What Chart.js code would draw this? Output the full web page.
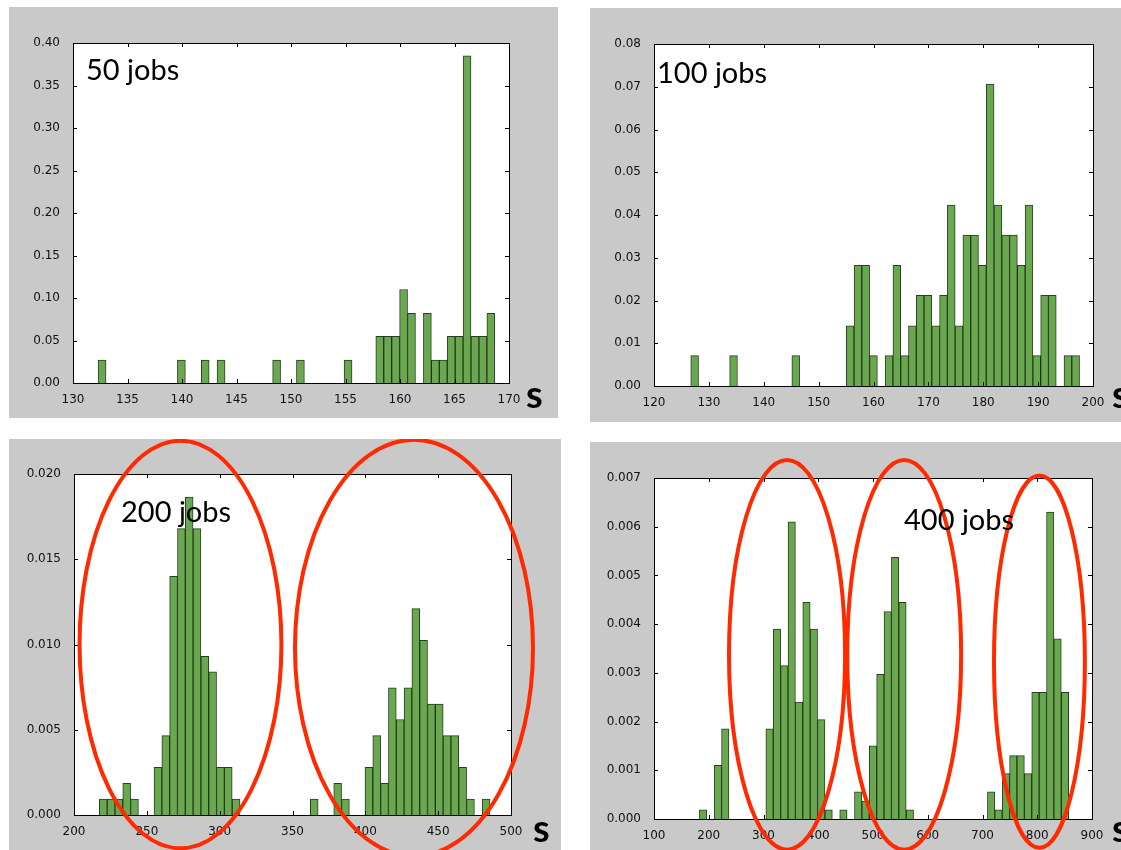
<!DOCTYPE html>
<html>
<head>
<meta charset="utf-8">
<script src="https://cdn.jsdelivr.net/npm/chart.js@4.4.0/dist/chart.umd.min.js"></script>
<style>
  body { margin: 0; background: #fff; width: 1121px; height: 850px; overflow: hidden; position: relative; }
  .panel { position: absolute; background: #c9c9c9; }
  .panel canvas { position: absolute; left: 0; top: 0; }
  .jobs { position: absolute; font-family: Lato, sans-serif; font-size: 29px; line-height: 0; color: #000; white-space: nowrap; z-index: 2; }
  .unit { position: absolute; font-family: Lato, sans-serif; font-weight: bold; font-size: 38px; line-height: 0; color: #000; z-index: 2; }
</style>
</head>
<body>

<div class="panel" style="left:9px;top:7px;width:549px;height:411px"><canvas id="jobs50" width="549" height="411"></canvas></div>
<div class="panel" style="left:590px;top:8px;width:531px;height:414px"><canvas id="jobs100" width="531" height="414"></canvas></div>
<div class="panel" style="left:9px;top:439px;width:552px;height:411px"><canvas id="jobs200" width="552" height="411"></canvas></div>
<div class="panel" style="left:590px;top:442px;width:531px;height:408px"><canvas id="jobs400" width="531" height="408"></canvas></div>

<div class="jobs" style="left:86px;top:69px">50 jobs</div>
<div class="jobs" style="left:657px;top:72px">100 jobs</div>
<div class="jobs" style="left:121px;top:511px">200 jobs</div>
<div class="jobs" style="left:904px;top:519px">400 jobs</div>
<div class="unit" style="left:526px;top:393px">s</div>
<div class="unit" style="left:1112px;top:393px">s</div>
<div class="unit" style="left:533px;top:827px">s</div>
<div class="unit" style="left:1112px;top:827px">s</div>

<script>
// histogram data: 50 bins each, density values
const bins50 = { start: 132.3, width: 0.728 };
const dens50 = [0.027, 0, 0, 0, 0, 0, 0, 0, 0, 0,
  0.027, 0, 0, 0.027, 0, 0.027, 0, 0, 0, 0,
  0, 0, 0.027, 0, 0, 0.027, 0, 0, 0, 0,
  0, 0.027, 0, 0, 0, 0.055, 0.055, 0.055, 0.11, 0.082,
  0, 0.082, 0.027, 0.027, 0.055, 0.055, 0.385, 0.055, 0.055, 0.082];
const xTicks50 = [130, 135, 140, 145, 150, 155, 160, 165, 170];
const yTicks50 = [0, 0.05, 0.10, 0.15, 0.20, 0.25, 0.30, 0.35, 0.40];

const bins100 = { start: 126.7, width: 1.417 };
const dens100 = [0.0071, 0, 0, 0, 0, 0.0071, 0, 0, 0, 0,
  0, 0, 0, 0.0071, 0, 0, 0, 0, 0, 0,
  0.0141, 0.0282, 0.0282, 0.0071, 0, 0.0071, 0.0282, 0.0071, 0.0141, 0.0212,
  0.0212, 0.0141, 0.0212, 0.0423, 0.0141, 0.0353, 0.0353, 0.0282, 0.0706, 0.0423,
  0.0353, 0.0353, 0.0282, 0.0423, 0.0071, 0.0212, 0.0212, 0, 0.0071, 0.0071];
const xTicks100 = [120, 130, 140, 150, 160, 170, 180, 190, 200];
const yTicks100 = [0, 0.01, 0.02, 0.03, 0.04, 0.05, 0.06, 0.07, 0.08];

const bins200 = { start: 217.4, width: 5.364 };
const dens200 = [0.00093, 0.00093, 0.00093, 0.00186, 0.00093, 0, 0, 0.0028, 0.00466, 0.014,
  0.0168, 0.01865, 0.0168, 0.0093, 0.0084, 0.0028, 0.0028, 0.00093, 0, 0,
  0, 0, 0, 0, 0, 0, 0, 0.00093, 0, 0,
  0.00186, 0.00093, 0, 0, 0.0028, 0.00466, 0.00186, 0.00746, 0.0056, 0.00746,
  0.0121, 0.01025, 0.0065, 0.0065, 0.00466, 0.00466, 0.0028, 0.00093, 0, 0.00093];
const xTicks200 = [200, 250, 300, 350, 400, 450, 500];
const yTicks200 = [0, 0.005, 0.010, 0.015, 0.020];

const bins400 = { start: 182.9, width: 13.49 };
const dens400 = [0.00019, 0, 0.0011, 0.00185, 0, 0, 0, 0, 0, 0.00185,
  0.0039, 0.00315, 0.0061, 0.0024, 0.00445, 0.0039, 0.00204, 0.00019, 0, 0.00019,
  0, 0.00056, 0.00037, 0.0015, 0.00297, 0.00426, 0.00537, 0.00445, 0.00019, 0,
  0, 0, 0, 0, 0, 0, 0, 0, 0, 0.00056,
  0.00019, 0.00093, 0.0013, 0.0013, 0.00093, 0.0026, 0.0026, 0.0063, 0.0037, 0.0026];
const xTicks400 = [100, 200, 300, 400, 500, 600, 700, 800, 900];
const yTicks400 = [0, 0.001, 0.002, 0.003, 0.004, 0.005, 0.006, 0.007];

// red rings drawn on the lower plots (centre and radii in data units)
const rings200 = [
  { x: 273.1, y: 0.0100, rx: 69.3, ry: 0.01195 },
  { x: 433.4, y: 0.0098, rx: 81.7, ry: 0.01221 }
];
const rings400 = [
  { x: 343, y: 0.00337, rx: 106, ry: 0.0040 },
  { x: 557, y: 0.00337, rx: 104, ry: 0.0040 },
  { x: 804, y: 0.00323, rx: 83, ry: 0.00382 }
];

// white plot area, black frame, inward tick marks, rings
const framePlugin = {
  id: 'frame',
  beforeDatasetsDraw(chart) {
    const a = chart.chartArea, ctx = chart.ctx;
    ctx.save();
    ctx.fillStyle = '#fff';
    ctx.fillRect(a.left, a.top, a.right - a.left, a.bottom - a.top);
    ctx.restore();
  },
  afterDatasetsDraw(chart) {
    const a = chart.chartArea, ctx = chart.ctx;
    const xs = chart.scales.x, ys = chart.scales.y;
    ctx.save();
    ctx.strokeStyle = '#000';
    ctx.lineWidth = 1;
    ctx.beginPath();
    xs.ticks.forEach(t => {
      const px = Math.round(xs.getPixelForValue(t.value)) + 0.5;
      ctx.moveTo(px, a.bottom); ctx.lineTo(px, a.bottom - 4);
      ctx.moveTo(px, a.top); ctx.lineTo(px, a.top + 4);
    });
    ys.ticks.forEach(t => {
      const py = Math.round(ys.getPixelForValue(t.value)) + 0.5;
      ctx.moveTo(a.left, py); ctx.lineTo(a.left + 4, py);
      ctx.moveTo(a.right, py); ctx.lineTo(a.right - 4, py);
    });
    ctx.stroke();
    ctx.strokeRect(Math.round(a.left) + 0.5, Math.round(a.top) + 0.5,
      Math.round(a.right - a.left), Math.round(a.bottom - a.top));
    ctx.restore();
  },
  afterDraw(chart, args, opts) {
    const rings = opts.rings || [];
    const xs = chart.scales.x, ys = chart.scales.y, ctx = chart.ctx;
    ctx.save();
    ctx.strokeStyle = '#ff2a00';
    ctx.lineWidth = 4;
    rings.forEach(r => {
      const cx = xs.getPixelForValue(r.x), cy = ys.getPixelForValue(r.y);
      const rx = Math.abs(xs.getPixelForValue(r.x + r.rx) - cx);
      const ry = Math.abs(ys.getPixelForValue(r.y + r.ry) - cy);
      ctx.beginPath();
      ctx.ellipse(cx, cy, rx, ry, 0, 0, Math.PI * 2);
      ctx.stroke();
    });
    ctx.restore();
  }
};

function histChart(id, bins, dens, xTicks, yTicks, decimals, box, rings) {
  const points = dens.map((v, i) => ({ x: bins.start + (i + 0.5) * bins.width, y: v }));
  const tickFont = { family: 'DejaVu Sans', size: 12 };
  const filled = ctx => ctx.raw && ctx.raw.y > 0;
  return new Chart(document.getElementById(id), {
    type: 'bar',
    data: {
      datasets: [{
        data: points,
        backgroundColor: ctx => (filled(ctx) ? '#6aa84f' : 'rgba(0,0,0,0)'),
        borderColor: 'rgba(20,40,12,0.9)',
        borderWidth: ctx => (filled(ctx) ? { top: 1, left: 1, right: 1, bottom: 0 } : 0),
        borderSkipped: false,
        barPercentage: 1,
        categoryPercentage: 1
      }]
    },
    options: {
      responsive: false,
      animation: false,
      layout: { padding: { left: 0, top: box.top, right: box.right, bottom: 0 } },
      plugins: {
        legend: { display: false },
        tooltip: { enabled: false },
        frame: { rings: rings }
      },
      scales: {
        x: {
          type: 'linear',
          offset: false,
          min: xTicks[0],
          max: xTicks[xTicks.length - 1],
          grid: { display: false },
          border: { display: false },
          afterBuildTicks: s => { s.ticks = xTicks.map(v => ({ value: v })); },
          afterFit: s => { s.height = box.xh; },
          ticks: { autoSkip: false, maxRotation: 0, padding: 2, color: '#111', font: tickFont,
            callback: v => String(v) }
        },
        y: {
          min: yTicks[0],
          max: yTicks[yTicks.length - 1],
          grid: { display: false },
          border: { display: false },
          afterBuildTicks: s => { s.ticks = yTicks.map(v => ({ value: v })); },
          afterFit: s => { s.width = box.yw; },
          ticks: { autoSkip: false, padding: 5, color: '#111', font: tickFont,
            callback: v => Number(v).toFixed(decimals) }
        }
      }
    },
    plugins: [framePlugin]
  });
}

histChart('jobs50', bins50, dens50, xTicks50, yTicks50, 2, { top: 36, right: 49, yw: 64, xh: 35 }, []);
histChart('jobs100', bins100, dens100, xTicks100, yTicks100, 2, { top: 36, right: 28, yw: 64, xh: 36 }, []);
histChart('jobs200', bins200, dens200, xTicks200, yTicks200, 3, { top: 35, right: 50, yw: 65, xh: 35 }, rings200);
histChart('jobs400', bins400, dens400, xTicks400, yTicks400, 3, { top: 36, right: 29, yw: 64, xh: 31 }, rings400);
</script>
</body>
</html>
